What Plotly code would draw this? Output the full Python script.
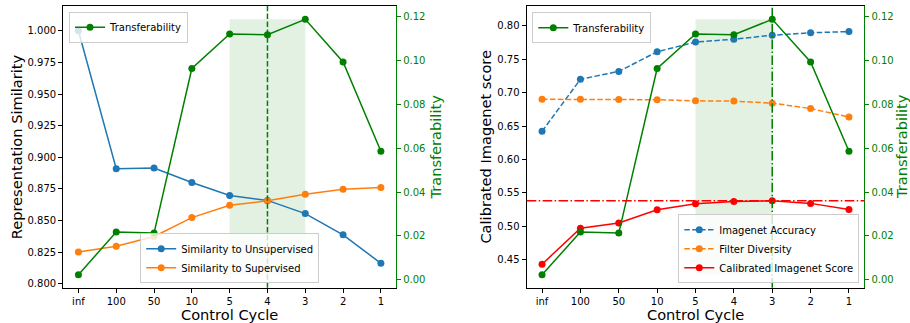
import plotly.graph_objects as go
from plotly.subplots import make_subplots

cycles = ["inf", "100", "50", "10", "5", "4", "3", "2", "1"]
sim_unsup = [1.000, 0.891, 0.8915, 0.880, 0.8698, 0.8659, 0.8555, 0.8387, 0.8162]
sim_sup = [0.8251, 0.8296, 0.8374, 0.8523, 0.862, 0.8656, 0.8708, 0.8747, 0.8761]
transfer = [0.0023, 0.0218, 0.0213, 0.0963, 0.1120, 0.1117, 0.1187, 0.0993, 0.0586]
imnet_acc = [0.642, 0.720, 0.7318, 0.7612, 0.7757, 0.780, 0.786, 0.7896, 0.7915]
filt_div = [0.690, 0.690, 0.6896, 0.6894, 0.6877, 0.6873, 0.6842, 0.6762, 0.6633]
calib = [0.443, 0.4968, 0.5047, 0.5246, 0.5335, 0.537, 0.538, 0.5341, 0.5251]

BLUE = "#1f77b4"
ORANGE = "#ff7f0e"
GREEN = "#008000"
RED = "#ff0000"
FONT = "DejaVu Sans"

fig = make_subplots(rows=1, cols=2, specs=[[{"secondary_y": True}, {"secondary_y": True}]])

mk = dict(size=7)
# left plot
fig.add_trace(go.Scatter(x=cycles, y=sim_unsup, mode="lines+markers", name="Similarity to Unsupervised",
                         line=dict(color=BLUE, width=1.5), marker=dict(color=BLUE, **mk), legend="legend2"),
              row=1, col=1, secondary_y=False)
fig.add_trace(go.Scatter(x=cycles, y=sim_sup, mode="lines+markers", name="Similarity to Supervised",
                         line=dict(color=ORANGE, width=1.5), marker=dict(color=ORANGE, **mk), legend="legend2"),
              row=1, col=1, secondary_y=False)
fig.add_trace(go.Scatter(x=cycles, y=transfer, mode="lines+markers", name="Transferability",
                         line=dict(color=GREEN, width=1.5), marker=dict(color=GREEN, **mk), legend="legend"),
              row=1, col=1, secondary_y=True)
# right plot
fig.add_trace(go.Scatter(x=cycles, y=imnet_acc, mode="lines+markers", name="Imagenet Accuracy",
                         line=dict(color=BLUE, width=1.5, dash="5.5px,2.4px"), marker=dict(color=BLUE, **mk),
                         legend="legend4"), row=1, col=2, secondary_y=False)
fig.add_trace(go.Scatter(x=cycles, y=filt_div, mode="lines+markers", name="Filter Diversity",
                         line=dict(color=ORANGE, width=1.5, dash="5.5px,2.4px"), marker=dict(color=ORANGE, **mk),
                         legend="legend4"), row=1, col=2, secondary_y=False)
fig.add_trace(go.Scatter(x=cycles, y=calib, mode="lines+markers", name="Calibrated Imagenet Score",
                         line=dict(color=RED, width=1.5), marker=dict(color=RED, **mk),
                         legend="legend4"), row=1, col=2, secondary_y=False)
fig.add_trace(go.Scatter(x=cycles, y=transfer, mode="lines+markers", name="Transferability",
                         line=dict(color=GREEN, width=1.5), marker=dict(color=GREEN, **mk), legend="legend3"),
              row=1, col=2, secondary_y=True)

tmin, tmax = min(transfer), max(transfer)
i5, i4, i3 = cycles.index("5"), cycles.index("4"), cycles.index("3")
# shaded spans
for xr, yr in (("x", "y2"), ("x2", "y4")):
    fig.add_shape(type="rect", xref=xr, yref=yr, x0=i5, x1=i3, y0=tmin, y1=tmax,
                  fillcolor="rgba(0,128,0,0.11)", line=dict(width=0), layer="below")
# vertical lines
fig.add_shape(type="line", xref="x", yref="y domain", x0=i4, x1=i4, y0=0, y1=1,
              line=dict(color=GREEN, width=1.5, dash="5.5px,2.4px"), layer="above")
fig.add_shape(type="line", xref="x2", yref="y3 domain", x0=i3, x1=i3, y0=0, y1=1,
              line=dict(color=GREEN, width=1.5, dash="9.6px,2.4px,1.5px,2.4px"), layer="above")
# horizontal line at max calibrated score
fig.add_shape(type="line", xref="x2 domain", yref="y3", x0=0, x1=1, y0=max(calib), y1=max(calib),
              line=dict(color=RED, width=1.5, dash="9.6px,2.4px,1.5px,2.4px"), layer="above")

W, H = 910, 323
dl = [63.3 / W, 396 / W]
dr = [526.7 / W, 864.3 / W]
dy = [1 - 289.5 / H, 1 - 6 / H]

tickfont = dict(family=FONT, size=10, color="black")
axline = dict(showline=True, linecolor="black", linewidth=1.3, ticks="outside", ticklen=4, tickwidth=1,
              tickcolor="black", showgrid=False, zeroline=False, tickfont=tickfont)

xcommon = dict(axline, mirror=True, range=[-0.4, 8.4], type="category")
fig.update_layout(
    xaxis=dict(xcommon, domain=dl, anchor="y"),
    xaxis2=dict(xcommon, domain=dr, anchor="y3"),
    yaxis=dict(axline, domain=dy, range=[0.7969, 1.0196], tickvals=[0.8 + 0.025 * i for i in range(9)],
               tickformat=".3f"),
    yaxis2=dict(axline, domain=dy, range=[-0.0036, 0.1248], tickvals=[0.02 * i for i in range(7)],
                tickformat=".2f", linecolor=GREEN, tickcolor=GREEN, tickfont=dict(tickfont, color=GREEN),
                overlaying="y", side="right", anchor="x"),
    yaxis3=dict(axline, domain=dy, range=[0.4078, 0.8298], tickvals=[0.45 + 0.05 * i for i in range(8)],
                tickformat=".2f", anchor="x2"),
    yaxis4=dict(axline, domain=dy, range=[-0.0036, 0.1248], tickvals=[0.02 * i for i in range(7)],
                tickformat=".2f", linecolor=GREEN, tickcolor=GREEN, tickfont=dict(tickfont, color=GREEN),
                overlaying="y3", side="right", anchor="x2"),
)

# axis titles
yc = 1 - 147.7 / H
titles = [
    ("Control Cycle", 229.7 / W, 1 - 316.5 / H, 0, "black"),
    ("Control Cycle", 695.5 / W, 1 - 316.5 / H, 0, "black"),
    ("Representation Similarity", 16.5 / W, yc, -90, "black"),
    ("Transferability", 435.8 / W, yc, -90, GREEN),
    ("Calibrated Imagenet score", 485.8 / W, yc, -90, "black"),
    ("Transferability", 902.2 / W, yc, -90, GREEN),
]
for text, x, y, ang, col in titles:
    fig.add_annotation(text=text, x=x, y=y, xref="paper", yref="paper", xanchor="center", yanchor="middle",
                       textangle=ang, showarrow=False, font=dict(family=FONT, size=14.6, color=col))

legstyle = dict(bgcolor="rgba(255,255,255,0.8)", bordercolor="#cccccc", borderwidth=1,
                font=dict(family=FONT, size=10, color="black"),
                itemwidth=30, tracegroupgap=0)
fig.update_layout(
    showlegend=True,
    legend=dict(legstyle, x=69 / W, y=1 - 11.7 / H, xanchor="left", yanchor="top"),
    legend2=dict(legstyle, x=229.7 / W, y=1 - 285 / H, xanchor="center", yanchor="bottom"),
    legend3=dict(legstyle, x=532.3 / W, y=1 - 12.3 / H, xanchor="left", yanchor="top"),
    legend4=dict(legstyle, x=859.3 / W, y=1 - 285 / H, xanchor="right", yanchor="bottom"),
    width=W, height=H, autosize=False,
    margin=dict(l=0, r=0, t=0, b=0),
    paper_bgcolor="white", plot_bgcolor="white",
    font=dict(family=FONT),
)

fig.write_html("out.html", config={"displayModeBar": False},
               post_script="document.body.style.margin='0';document.body.style.overflow='hidden';")
